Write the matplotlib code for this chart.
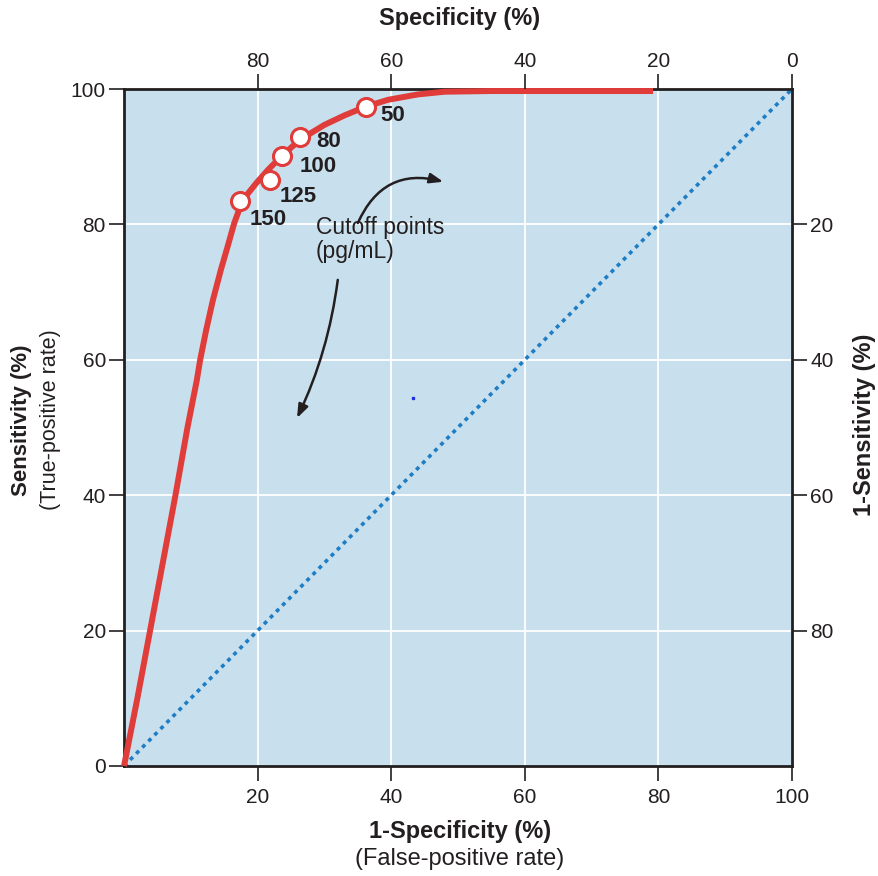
import matplotlib
matplotlib.use("Agg")
import matplotlib.pyplot as plt

plt.rcParams["font.family"] = ["Liberation Sans", "DejaVu Sans"]

# ROC curve (1-specificity, sensitivity)
roc_x = [0, 2.0, 3.9, 5.8, 7.7, 9.5, 10.9, 11.4, 12.3, 13.3, 14.5, 15.5, 16.5, 17.4,
         18.5, 19.8, 21.5, 23.3, 25.3, 27.5, 30.0, 33.0, 36.2, 39.5, 44.0, 48.0, 55.0, 79.2]
roc_y = [0, 10.0, 20.0, 30.0, 40.0, 50.0, 57.0, 60.0, 64.4, 68.8, 73.3, 76.7, 80.2, 82.6,
         84.5, 86.1, 88.0, 89.8, 91.6, 93.2, 94.7, 96.1, 97.4, 98.4, 99.2, 99.6, 99.7, 99.7]

# cutoff points (pg/mL)
cut_labels = ["50", "80", "100", "125", "150"]
cut_x = [36.2, 26.4, 23.7, 21.9, 17.4]
cut_y = [97.4, 92.9, 90.1, 86.5, 83.4]

ticks = [20, 40, 60, 80, 100]
left_ticks = [0, 20, 40, 60, 80, 100]
top_labels = ["80", "60", "40", "20", "0"]
right_ticks = [20, 40, 60, 80]
right_labels = ["80", "60", "40", "20"]

red = "#e03c3a"
blue = "#1f7dc4"
bg = "#c8e0ee"
dark = "#231f20"

fig = plt.figure(figsize=(8.79, 8.76), dpi=100)
ax = fig.add_axes([0.1411, 0.1256, 0.7599, 0.7728])
ax.set_facecolor(bg)
ax.set_xlim(0, 100)
ax.set_ylim(0, 100)

for v in [20, 40, 60, 80]:
    ax.axvline(v, color="white", lw=1.3, zorder=1)
    ax.axhline(v, color="white", lw=1.3, zorder=1)

ax.plot([0, 100], [0, 100], color=blue, lw=2.6, dashes=(1.1, 1.3), zorder=2)
ax.plot([43.3], [54.4], "s", color="#2030e0", ms=2, zorder=2)
ax.plot(roc_x, roc_y, color=red, lw=4.3, solid_capstyle="butt", solid_joinstyle="round",
        zorder=3, clip_on=False)
ax.plot(cut_x, cut_y, "o", ms=13, mfc="white", mec=red, mew=2.2, zorder=4)

# label offsets in points from each marker
offs = [(10.3, -6.3), (11.7, -3.1), (12.7, -7.4), (6.7, -11.7), (6.5, -13.0)]
for lab, x, y, o in zip(cut_labels, cut_x, cut_y, offs):
    ax.annotate(lab, (x, y), xytext=o, textcoords="offset points",
                fontsize=16, fontweight="bold", color=dark, va="center", ha="left")

ax.text(28.7, 81.2, "Cutoff points\n(pg/mL)", fontsize=16.5, color=dark,
        va="top", ha="left", linespacing=1.05)
ax.annotate("", xy=(47.8, 86.3), xytext=(35.0, 80.2),
            arrowprops=dict(arrowstyle="-|>,head_length=0.8,head_width=0.3", color=dark, lw=1.8,
                            connectionstyle="arc3,rad=-0.42", shrinkA=0, shrinkB=0))
ax.annotate("", xy=(25.9, 51.4), xytext=(32.0, 71.8),
            arrowprops=dict(arrowstyle="-|>,head_length=0.8,head_width=0.3", color=dark, lw=1.8,
                            connectionstyle="arc3,rad=-0.08", shrinkA=0, shrinkB=0))

for s in ax.spines.values():
    s.set_linewidth(2)
    s.set_color(dark)

ax.set_xticks(ticks)
ax.set_yticks(left_ticks)
ax.tick_params(axis="y", length=11, width=1.2, color=dark, labelsize=15, labelcolor=dark, pad=2)
ax.tick_params(axis="x", length=11, width=1.2, color=dark, labelsize=15, labelcolor=dark, pad=5)

ax2 = ax.twiny()
ax2.set_xlim(0, 100)
ax2.set_xticks(ticks)
ax2.set_xticklabels(top_labels)
ax2.tick_params(length=11, width=1.2, color=dark, labelsize=15, labelcolor=dark, pad=2)

ax3 = ax.twinx()
ax3.set_ylim(0, 100)
ax3.set_yticks(right_ticks)
ax3.set_yticklabels(right_labels)
ax3.tick_params(length=11, width=1.2, color=dark, labelsize=15, labelcolor=dark, pad=2)
for a in (ax2, ax3):
    for s in a.spines.values():
        s.set_visible(False)

fig.text(0.523, 0.979, "Specificity (%)", fontsize=17, fontweight="bold", color=dark, ha="center", va="center")
fig.text(0.523, 0.051, "1-Specificity (%)", fontsize=17, fontweight="bold", color=dark, ha="center", va="center")
fig.text(0.523, 0.019, "(False-positive rate)", fontsize=17, color=dark, ha="center", va="center")
fig.text(0.025, 0.5205, "Sensitivity (%)", fontsize=16, fontweight="bold", color=dark, ha="center", va="center", rotation=90)
fig.text(0.057, 0.5205, "(True-positive rate)", fontsize=15.5, color=dark, ha="center", va="center", rotation=90)
fig.text(0.984, 0.515, "1-Sensitivity (%)", fontsize=17, fontweight="bold", color=dark, ha="center", va="center", rotation=90)

fig.savefig("out.png", dpi=100)
